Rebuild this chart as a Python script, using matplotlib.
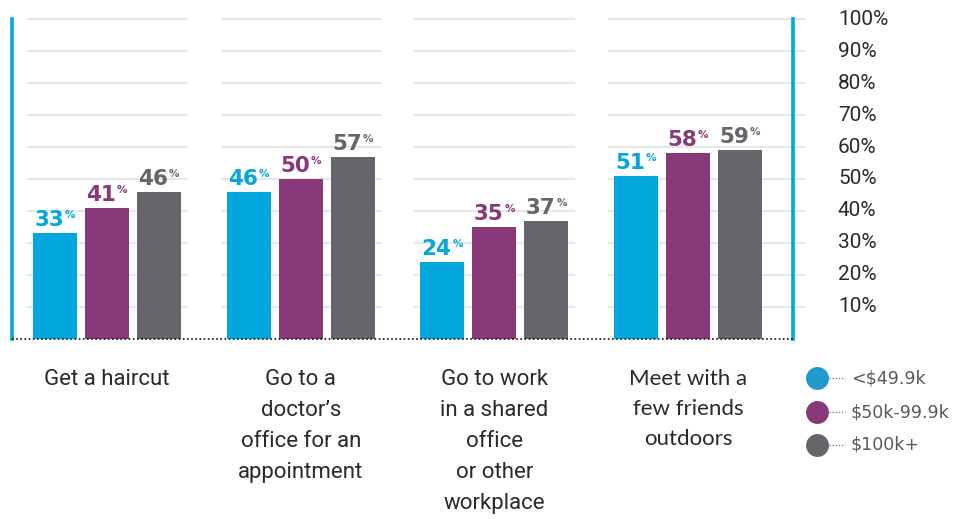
import matplotlib
matplotlib.use("Agg")
import matplotlib.pyplot as plt
from matplotlib.transforms import offset_copy
from matplotlib.lines import Line2D
import numpy as np

# Data
categories = [
    "Get a haircut",
    "Go to a\ndoctor\u2019s\noffice for an\nappointment",
    "Go to work\nin a shared\noffice\nor other\nworkplace",
    "Meet with a\nfew friends\noutdoors",
]
series_names = ["<$49.9k", "$50k-99.9k", "$100k+"]
values = [
    [33, 46, 24, 51],   # <$49.9k
    [41, 50, 35, 58],   # $50k-99.9k
    [46, 57, 37, 59],   # $100k+
]
ytick_values = [10, 20, 30, 40, 50, 60, 70, 80, 90, 100]
ytick_labels = [f"{v}%" for v in ytick_values]

bar_colors = ["#00A8DF", "#883979", "#65666B"]
legend_colors = ["#2299CC", "#883979", "#65666B"]
blue_rule = "#00A8DF"
grid_color = "#E8E8E8"
text_color = "#2A2A2A"

W, H = 959, 519
DPI = 100
fig = plt.figure(figsize=(W / DPI, H / DPI), dpi=DPI)

# Axes box in pixel terms (left rule, right rule, baseline, 100% line)
x_left_px, x_right_px = 12, 793
y_base_px, y_top_px = 339, 19
ax = fig.add_axes([x_left_px / W, (H - y_base_px) / H,
                   (x_right_px - x_left_px) / W, (y_base_px - y_top_px) / H])

px_per_unit = 193.7
first_center_px = 107
ax.set_xlim((x_left_px - first_center_px) / px_per_unit,
            (x_right_px - first_center_px) / px_per_unit)
ax.set_ylim(0, 100)

bar_w = 44 / px_per_unit
step = 52 / px_per_unit
x = np.arange(len(categories))

# Segmented gridlines per category group
half_left = 80 / px_per_unit
half_right = 81 / px_per_unit
last_right = (806 - first_center_px) / px_per_unit
for i, xc in enumerate(x):
    xr = last_right if i == len(x) - 1 else xc + half_right
    ax.hlines(ytick_values, xc - half_left, xr, colors=grid_color,
              linewidth=1.6, zorder=0, clip_on=False)

# Bars and value labels
for s, (name, vals) in enumerate(zip(series_names, values)):
    xs = x + (s - 1) * step
    ax.bar(xs, vals, width=bar_w, color=bar_colors[s], zorder=2,
           linewidth=0)
    for xv, v in zip(xs, vals):
        t_num = offset_copy(ax.transData, fig=fig, x=9, y=7, units="dots")
        ax.text(xv, v, f"{v}", transform=t_num, ha="right", va="baseline",
                fontsize=15.5, fontweight="bold", family="DejaVu Sans",
                color=bar_colors[s], zorder=3)
        t_pct = offset_copy(ax.transData, fig=fig, x=10, y=15, units="dots")
        ax.text(xv, v, "%", transform=t_pct, ha="left", va="baseline",
                fontsize=7.5, fontweight="bold", family="DejaVu Sans",
                color=bar_colors[s], zorder=3)

# Spines: blue rules left/right, dotted baseline
ax.spines["top"].set_visible(False)
ax.spines["bottom"].set_visible(False)
for side in ["left", "right"]:
    ax.spines[side].set_color(blue_rule)
    ax.spines[side].set_linewidth(2.6)
    ax.spines[side].set_zorder(4)
ax.axhline(0, color="#111111", linewidth=1.2, linestyle=(0, (1, 1.5)),
           zorder=5, clip_on=False)

# Right-side percentage ticks
ax.yaxis.tick_right()
ax.set_yticks(ytick_values)
ax.set_yticklabels(ytick_labels)
ax.tick_params(axis="y", length=0, pad=45 * 72 / DPI, labelsize=15,
               labelcolor=text_color)
for lbl in ax.get_yticklabels():
    lbl.set_family("Roboto")
    lbl.set_va("center")

# Category labels below the baseline
ax.set_xticks([])
for i, (xc, cat) in enumerate(zip(x, categories)):
    t_cat = offset_copy(ax.get_xaxis_transform(), fig=fig, x=0, y=-30,
                        units="dots")
    ax.text(xc, 0, cat, transform=t_cat, ha="center", va="top",
            fontsize=16, family="Lato" if i == 3 else "Roboto",
            color=text_color, linespacing=1.62, multialignment="center")

# Legend: dots with dotted leaders
legend_y_px = [378, 412, 445]
for name, col, ypx in zip(series_names, legend_colors, legend_y_px):
    yf = (H - ypx) / H
    fig.add_artist(Line2D([829 / W, 845 / W], [yf, yf], color="#777777",
                          linewidth=0.9, linestyle=(0, (1, 1.5)),
                          transform=fig.transFigure))
    fig.add_artist(Line2D([817 / W], [yf], marker="o", markersize=16.5,
                          markerfacecolor=col, markeredgewidth=0,
                          linestyle="none", transform=fig.transFigure))
    fig.text(851 / W, yf, name, ha="left", va="center", fontsize=12.5,
             family="DejaVu Sans", color="#555A60")

fig.savefig("out.png", dpi=DPI)
